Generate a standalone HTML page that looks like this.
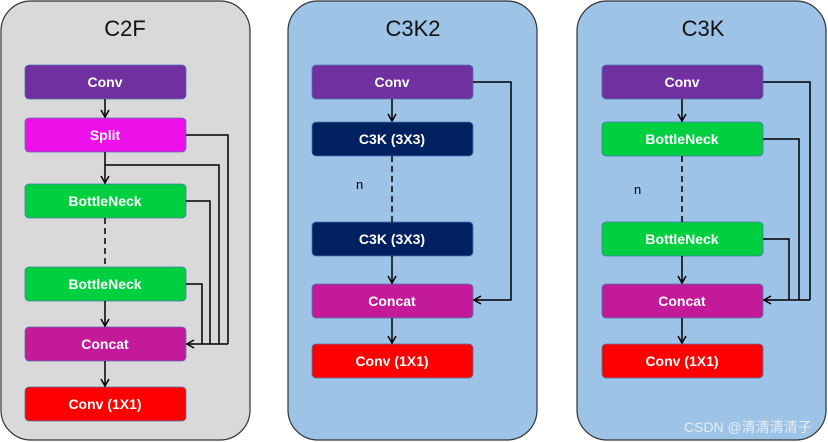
<!DOCTYPE html>
<html><head><meta charset="utf-8"><style>
html,body{margin:0;padding:0;background:#fff;}
svg{display:block;}
text{font-family:"Liberation Sans","Noto Sans CJK SC",sans-serif;}
.b{font-weight:bold;font-size:14px;fill:#fff;text-anchor:middle;}
.t{font-size:22px;fill:#111;text-anchor:middle;}
.l{stroke:#000;stroke-width:1.5;fill:none;}
</style></head><body>
<svg width="828" height="442" viewBox="0 0 828 442" xmlns="http://www.w3.org/2000/svg">
<defs><marker id="a" markerWidth="10" markerHeight="10" refX="8" refY="5" orient="auto" markerUnits="userSpaceOnUse"><path d="M1,1 L8,5 L1,9" fill="none" stroke="#000" stroke-width="1.5"/></marker></defs>
<!-- panels -->
<rect x="1" y="1" width="249" height="439" rx="30" fill="#d9d9d9" stroke="#333" stroke-width="1.2"/>
<rect x="288" y="1" width="249" height="439" rx="30" fill="#9dc3e6" stroke="#333" stroke-width="1.2"/>
<rect x="577" y="1" width="249" height="439" rx="30" fill="#9dc3e6" stroke="#333" stroke-width="1.2"/>
<text class="t" x="125" y="36">C2F</text>
<text class="t" x="413" y="36">C3K2</text>
<text class="t" x="703" y="36">C3K</text>

<!-- C2F -->
<g stroke="#4a78b0" stroke-width="0.8">
<rect x="25" y="65" width="161" height="34" rx="4" fill="#7030a0"/>
<rect x="25" y="118" width="161" height="34" rx="4" fill="#ee10e8"/>
<rect x="25" y="184" width="161" height="34" rx="4" fill="#00d040"/>
<rect x="25" y="267" width="161" height="34" rx="4" fill="#00d040"/>
<rect x="25" y="327" width="161" height="34" rx="4" fill="#c31a9a"/>
<rect x="25" y="387" width="161" height="34" rx="4" fill="#ff0000"/>
</g>
<text class="b" x="105" y="87">Conv</text>
<text class="b" x="105" y="140">Split</text>
<text class="b" x="105" y="206">BottleNeck</text>
<text class="b" x="105" y="289">BottleNeck</text>
<text class="b" x="105" y="349">Concat</text>
<text class="b" x="105" y="409">Conv (1X1)</text>
<line class="l" x1="105" y1="99" x2="105" y2="117" marker-end="url(#a)"/>
<line class="l" x1="105" y1="152" x2="105" y2="183" marker-end="url(#a)"/>
<line class="l" x1="105" y1="218" x2="105" y2="267" stroke-dasharray="6,4"/>
<line class="l" x1="105" y1="301" x2="105" y2="326" marker-end="url(#a)"/>
<line class="l" x1="105" y1="361" x2="105" y2="386" marker-end="url(#a)"/>
<path class="l" d="M186,135 H228 V344"/>
<path class="l" d="M105,165 H219 V344"/>
<path class="l" d="M186,201 H210 V344"/>
<path class="l" d="M186,284 H202 V344"/>
<line class="l" x1="228" y1="344" x2="187" y2="344" marker-end="url(#a)"/>

<!-- C3K2 -->
<g stroke="#4a78b0" stroke-width="0.8">
<rect x="312" y="65" width="161" height="34" rx="4" fill="#7030a0"/>
<rect x="312" y="122" width="161" height="34" rx="4" fill="#002060"/>
<rect x="312" y="222" width="161" height="34" rx="4" fill="#002060"/>
<rect x="312" y="284" width="161" height="34" rx="4" fill="#c31a9a"/>
<rect x="312" y="344" width="161" height="34" rx="4" fill="#ff0000"/>
</g>
<text class="b" x="392" y="87">Conv</text>
<text class="b" x="392" y="144">C3K (3X3)</text>
<text class="b" x="392" y="244">C3K (3X3)</text>
<text class="b" x="392" y="306">Concat</text>
<text class="b" x="392" y="366">Conv (1X1)</text>
<text x="356" y="189" font-size="13" fill="#000">n</text>
<line class="l" x1="392" y1="99" x2="392" y2="121" marker-end="url(#a)"/>
<line class="l" x1="392" y1="156" x2="392" y2="222" stroke-dasharray="6,4"/>
<line class="l" x1="392" y1="256" x2="392" y2="283" marker-end="url(#a)"/>
<line class="l" x1="392" y1="318" x2="392" y2="343" marker-end="url(#a)"/>
<path class="l" d="M473,82 H511 V300 H474" marker-end="url(#a)"/>

<!-- C3K -->
<g stroke="#4a78b0" stroke-width="0.8">
<rect x="602" y="65" width="161" height="34" rx="4" fill="#7030a0"/>
<rect x="602" y="122" width="161" height="34" rx="4" fill="#00d040"/>
<rect x="602" y="222" width="161" height="34" rx="4" fill="#00d040"/>
<rect x="602" y="284" width="161" height="34" rx="4" fill="#c31a9a"/>
<rect x="602" y="344" width="161" height="34" rx="4" fill="#ff0000"/>
</g>
<text class="b" x="682" y="87">Conv</text>
<text class="b" x="682" y="144">BottleNeck</text>
<text class="b" x="682" y="244">BottleNeck</text>
<text class="b" x="682" y="306">Concat</text>
<text class="b" x="682" y="366">Conv (1X1)</text>
<text x="634" y="194" font-size="13" fill="#000">n</text>
<line class="l" x1="682" y1="99" x2="682" y2="121" marker-end="url(#a)"/>
<line class="l" x1="682" y1="156" x2="682" y2="222" stroke-dasharray="6,4"/>
<line class="l" x1="682" y1="256" x2="682" y2="283" marker-end="url(#a)"/>
<line class="l" x1="682" y1="318" x2="682" y2="343" marker-end="url(#a)"/>
<path class="l" d="M763,82 H810 V300"/>
<path class="l" d="M763,139 H799 V300"/>
<path class="l" d="M763,239 H789 V300"/>
<line class="l" x1="810" y1="300" x2="764" y2="300" marker-end="url(#a)"/>
<text x="684" y="432" font-size="14" fill="#f2f2f2" opacity="0.9">CSDN @清清清清子</text>
</svg>
</body></html>
